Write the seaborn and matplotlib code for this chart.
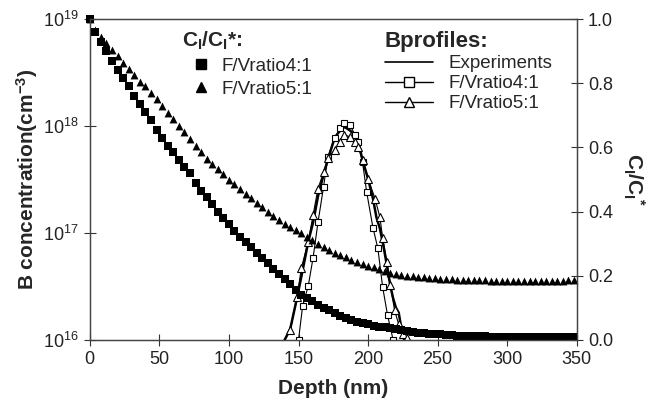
import numpy as np
import pandas as pd
import matplotlib
matplotlib.use("Agg")
import matplotlib.pyplot as plt
import seaborn as sns
from matplotlib.lines import Line2D

# C_I/C_I* curves (right axis), one point every 4 nm
ci_depth = list(range(0, 352, 4))
ci_ratio4 = [1.00, 0.96, 0.93, 0.90, 0.87, 0.84, 0.815, 0.79, 0.76, 0.735,
             0.71, 0.685, 0.655, 0.63, 0.605, 0.585, 0.56, 0.54, 0.52, 0.49,
             0.465, 0.445, 0.425, 0.40, 0.38, 0.36, 0.34, 0.32, 0.305, 0.29,
             0.27, 0.255, 0.24, 0.22, 0.205, 0.19, 0.175, 0.155, 0.14, 0.13,
             0.12, 0.11, 0.10, 0.093, 0.085, 0.075, 0.068, 0.062, 0.057, 0.053,
             0.049, 0.045, 0.042, 0.039, 0.036, 0.033, 0.030, 0.027, 0.025, 0.023,
             0.022, 0.020, 0.019, 0.018, 0.016, 0.015, 0.014, 0.013, 0.012, 0.012,
             0.011, 0.011, 0.010, 0.010, 0.010, 0.009, 0.009, 0.009, 0.009, 0.008,
             0.008, 0.008, 0.008, 0.008, 0.008, 0.008, 0.008, 0.008]
ci_ratio5 = [1.00, 0.965, 0.945, 0.925, 0.905, 0.885, 0.862, 0.843, 0.825, 0.805,
             0.79, 0.77, 0.75, 0.728, 0.708, 0.688, 0.668, 0.648, 0.625, 0.605,
             0.585, 0.565, 0.548, 0.532, 0.518, 0.50, 0.485, 0.47, 0.455, 0.442,
             0.428, 0.414, 0.40, 0.386, 0.373, 0.362, 0.352, 0.343, 0.334, 0.322,
             0.31, 0.298, 0.29, 0.28, 0.272, 0.265, 0.258, 0.25, 0.243, 0.238,
             0.232, 0.226, 0.22, 0.214, 0.21, 0.206, 0.203, 0.20, 0.198, 0.196,
             0.195, 0.193, 0.192, 0.191, 0.19, 0.189, 0.188, 0.188, 0.187, 0.187,
             0.186, 0.186, 0.185, 0.185, 0.184, 0.184, 0.184, 0.184, 0.184, 0.184,
             0.184, 0.184, 0.185, 0.185, 0.185, 0.185, 0.186, 0.186]

# B profiles (left axis, log)
exp_depth = [140, 144, 149, 153, 157, 160.5, 164, 168, 171, 176, 180, 183, 187, 190,
             193, 196, 200, 203.5, 206, 208.5, 211, 213.5, 216, 218, 220, 222, 224, 226]
exp_conc = [1.0e16, 1.26e16, 2.5e16, 4.5e16, 8.3e16, 1.26e17, 2.2e17, 3.5e17, 4.8e17,
            7.8e17, 9.1e17, 9.8e17, 9.1e17, 8.3e17, 7.1e17, 4.8e17, 3.2e17, 2.1e17,
            1.4e17, 1.1e17, 7.6e16, 5.0e16, 3.2e16, 2.45e16, 2.0e16, 1.8e16, 1.26e16, 1.0e16]
r4_depth = [150, 153, 157, 160.5, 164, 168, 171, 176, 180, 183, 187, 190.5, 193, 196,
            199, 203.5, 207, 210.5, 214, 218]
r4_conc = [1.0e16, 2.1e16, 3.2e16, 5.9e16, 1.26e17, 2.7e17, 5.1e17, 7.8e17, 9.5e17,
           1.07e18, 1.02e18, 8.3e17, 7.1e17, 4.6e17, 2.4e17, 1.12e17, 7.2e16, 3.1e16,
           1.7e16, 1.0e16]
r5_depth = [144, 149, 152, 157, 160.5, 164, 168, 171, 176, 180, 183, 187, 190.5, 193,
            196, 200, 205, 208.5, 210.5, 213.5, 216, 219, 222, 225, 228]
r5_conc = [1.23e16, 2.5e16, 4.7e16, 8.3e16, 1.48e17, 2.6e17, 3.7e17, 5.0e17, 6.0e17,
           7.1e17, 8.3e17, 7.9e17, 7.1e17, 6.3e17, 4.8e17, 3.2e17, 2.1e17, 1.4e17,
           8.9e16, 5.4e16, 3.3e16, 1.9e16, 1.4e16, 1.15e16, 1.05e16]

sns.set_style("ticks")
plt.rcParams["font.family"] = ["Liberation Sans", "DejaVu Sans"]
plt.rcParams["mathtext.fontset"] = "custom"
plt.rcParams["mathtext.rm"] = "Liberation Sans"
plt.rcParams["mathtext.it"] = "Liberation Sans:italic"
plt.rcParams["mathtext.bf"] = "Liberation Sans:bold"

fig = plt.figure(figsize=(6.6, 4.05), dpi=100)
ax = fig.add_axes([0.136, 0.1605, 0.738, 0.7925])
ax2 = ax.twinx()

sns.lineplot(x=exp_depth, y=exp_conc, ax=ax, color="black", lw=1.8, zorder=3)
sns.lineplot(x=r4_depth, y=r4_conc, ax=ax, color="black", lw=0.8, marker="s",
             markersize=5, markerfacecolor="white", markeredgecolor="black",
             markeredgewidth=0.8, zorder=4)
sns.lineplot(x=r5_depth, y=r5_conc, ax=ax, color="black", lw=0.8, marker="^",
             markersize=5.5, markerfacecolor="white", markeredgecolor="black",
             markeredgewidth=0.8, zorder=4)
ax.set_yscale("log")
ax.set_ylim(1e16, 1e19)
ax.set_xlim(0, 350)
ax.set_xticks(range(0, 351, 50))
ax.set_yticks([1e16, 1e17, 1e18, 1e19])
ax.minorticks_off()

ci = pd.DataFrame({"depth": ci_depth, "r4": ci_ratio4, "r5": ci_ratio5})
sns.scatterplot(data=ci, x="depth", y="r5", ax=ax2, marker="^", s=32, color="black",
                edgecolor="black", linewidth=0, clip_on=False)
sns.scatterplot(data=ci, x="depth", y="r4", ax=ax2, marker="s", s=26, color="black",
                edgecolor="black", linewidth=0, clip_on=False)
ax2.set_ylim(0, 1.0)
ax2.set_yticks([0.0, 0.2, 0.4, 0.6, 0.8, 1.0])
ax2.set_yticklabels(["0.0", "0.2", "0.4", "0.6", "0.8", "1.0"])
ax2.set_xlim(0, 350)

for a in (ax, ax2):
    a.tick_params(direction="inout", length=8, width=0.8, labelsize=13, pad=4,
                  colors="#333333", labelcolor="#222222")
    for s in a.spines.values():
        s.set_visible(True)
        s.set_color("#444444")
        s.set_linewidth(0.9)

ax.set_xlabel("Depth (nm)", fontsize=15, fontweight="bold", labelpad=8)
ax.set_ylabel(r"B concentration(cm$^{\mathbf{-3}}$)", fontsize=15, fontweight="bold",
              labelpad=2)
ax2.set_ylabel(r"C$_\mathbf{I}$/C$_\mathbf{I}$$^\mathbf{*}$", fontsize=15,
               fontweight="bold", rotation=270, labelpad=24)

h1 = [Line2D([], [], ls="none", marker="s", color="black", markersize=6.5),
      Line2D([], [], ls="none", marker="^", color="black", markersize=7.5)]
leg1 = ax2.legend(h1, ["F/Vratio4:1", "F/Vratio5:1"], loc="upper left",
                  bbox_to_anchor=(0.175, 0.99), frameon=False, fontsize=13.5,
                  title=r"C$_\mathbf{I}$/C$_\mathbf{I}$*:", alignment="left",
                  handletextpad=0.1, labelspacing=0.3, borderaxespad=0)
leg1.get_title().set_fontweight("bold")
leg1.get_title().set_fontsize(15)
ax2.add_artist(leg1)

h2 = [Line2D([], [], color="black", lw=1.2),
      Line2D([], [], color="black", lw=1.0, marker="s", markerfacecolor="white",
             markersize=6.5),
      Line2D([], [], color="black", lw=1.0, marker="^", markerfacecolor="white",
             markersize=6.5)]
leg2 = ax2.legend(h2, ["Experiments", "F/Vratio4:1", "F/Vratio5:1"], loc="upper left",
                  bbox_to_anchor=(0.59, 0.985), frameon=False, fontsize=13.5,
                  title="Bprofiles:", alignment="left", handlelength=2.6,
                  handletextpad=0.8, labelspacing=0.15, borderaxespad=0)
leg2.get_title().set_fontweight("bold")
leg2.get_title().set_fontsize(16)

fig.savefig("out.png", dpi=100)
